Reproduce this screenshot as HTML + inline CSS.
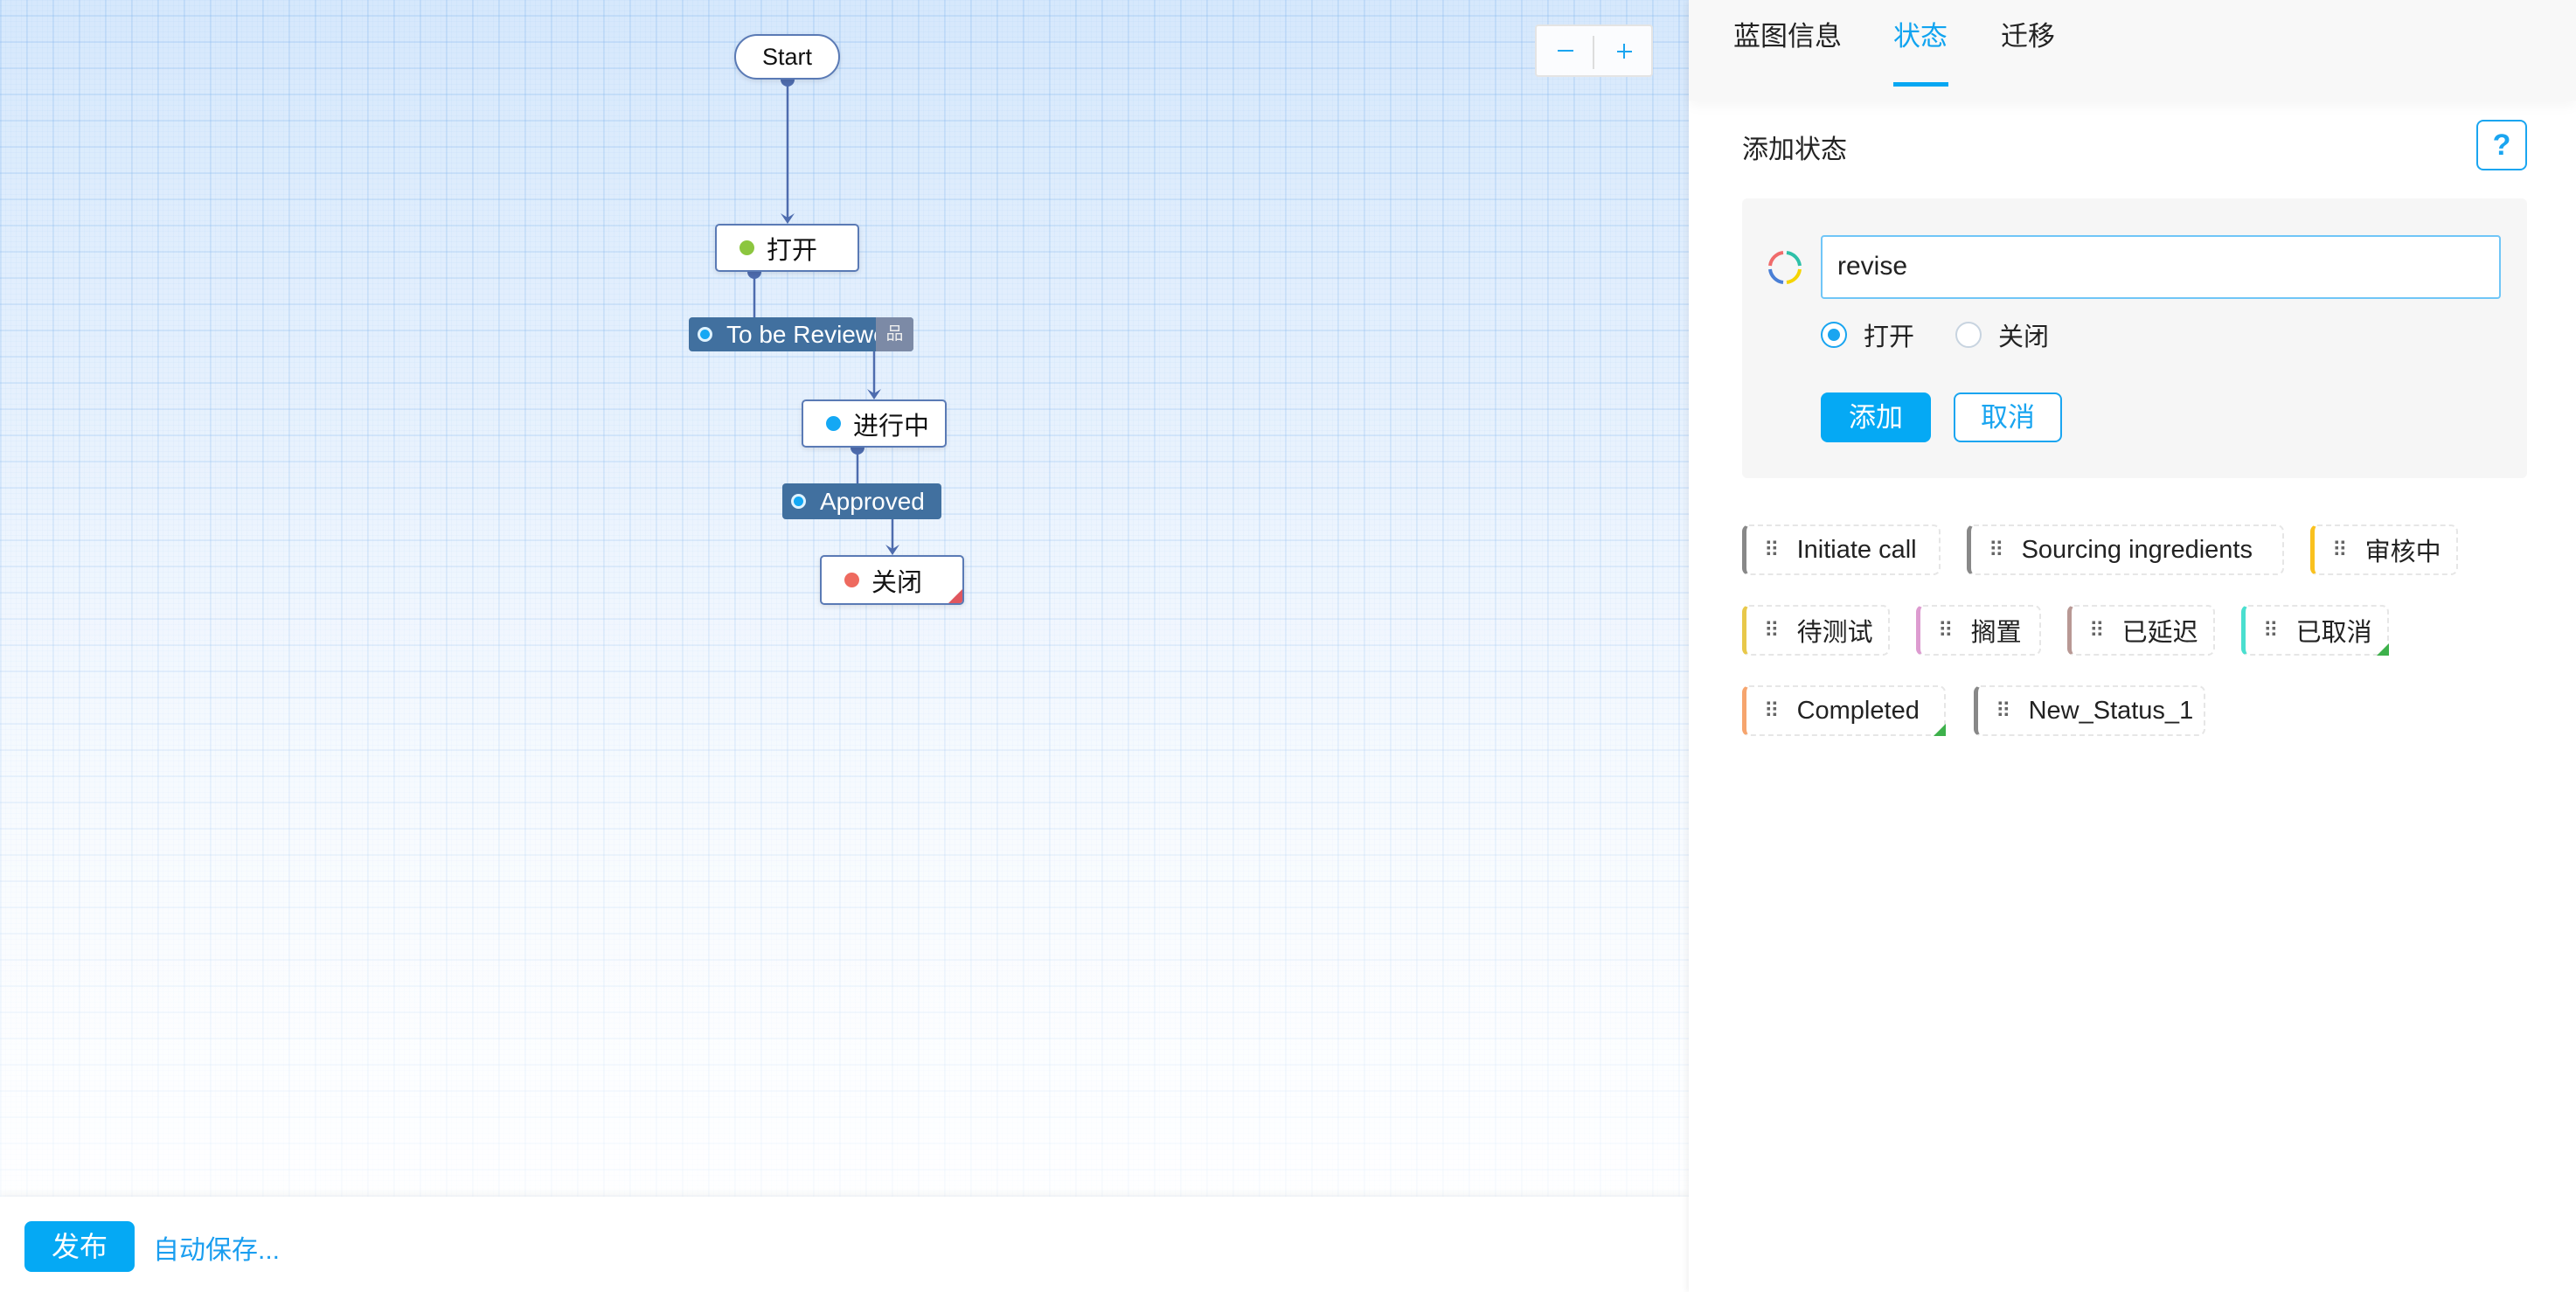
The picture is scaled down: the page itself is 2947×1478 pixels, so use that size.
<!DOCTYPE html>
<html><head><meta charset="utf-8"><style>
*{box-sizing:border-box;margin:0;padding:0}
body{width:2947px;height:1478px;position:relative;overflow:hidden;font-family:"Liberation Sans","Noto Sans CJK SC",sans-serif;background:#fff}
#canvas{position:absolute;left:0;top:0;width:1932px;height:1369px;
background:
linear-gradient(to bottom,rgba(255,255,255,0) 0%,rgba(255,255,255,0.1) 35%,rgba(255,255,255,.8) 100%),
repeating-linear-gradient(90deg,rgba(120,175,235,.2) 0 2px,transparent 2px 30px),
repeating-linear-gradient(0deg,rgba(120,175,235,.2) 0 2px,transparent 2px 30px),
repeating-linear-gradient(90deg,rgba(140,190,240,.08) 0 1px,transparent 1px 6px),
repeating-linear-gradient(0deg,rgba(140,190,240,.08) 0 1px,transparent 1px 6px),
linear-gradient(to bottom,#d6e8fc,#eef5fe 60%,#fbfdff)}
#bottom{position:absolute;left:0;top:1369px;width:1932px;height:109px;background:#fff;box-shadow:0 -4px 8px rgba(0,0,0,.04)}
.abs{position:absolute}
.node{position:absolute;background:#fff;border:2px solid #5a7ab5;border-radius:5px;font-size:29px;color:#111;display:flex;align-items:center;padding-left:26px;box-shadow:0 2px 6px rgba(0,0,0,.1)}
.dot{display:inline-block;width:17px;height:17px;border-radius:50%;margin-right:14px}
.bar{position:absolute;background:#41709f;color:#fff;font-size:28px;border-radius:4px;display:flex;align-items:center}
.bdot{width:17px;height:17px;border-radius:50%;border:3px solid #dff3ff;background:#14a8f4;margin:0 16px 0 10px}
#panel{position:absolute;left:1932px;top:0;width:1015px;height:1478px;background:#fff;box-shadow:-3px 0 6px rgba(0,0,0,.05)}
#hdr{position:absolute;left:0;top:0;width:1015px;height:115px;background:#f8f8f8;box-shadow:0 6px 14px rgba(0,0,0,.04)}
.tab{position:absolute;top:16px;font-size:31px;color:#222}
.tag{position:absolute;height:58px;border:2px dashed #e6e6e6;border-left:5px solid #888;border-radius:8px;font-size:29px;color:#222;display:flex;align-items:center;padding-left:20px}
.tag .h{color:#666;font-size:24px;margin-right:22px;letter-spacing:-2px}
.tag .c{position:absolute;right:-2px;bottom:-2px;width:0;height:0;border-left:14px solid transparent;border-bottom:14px solid #3db14b}
</style></head><body>
<div id="canvas"></div>
<svg class="abs" style="left:0;top:0" width="1932" height="1369">
<g stroke="#4e6cae" stroke-width="2.5" fill="none">
<line x1="901" y1="91" x2="901" y2="250"/>
<line x1="863" y1="311" x2="863" y2="363"/>
<line x1="1000" y1="402" x2="1000" y2="451"/>
<line x1="981" y1="512" x2="981" y2="553"/>
<line x1="1021" y1="594" x2="1021" y2="629"/>
</g>
<g fill="#4e6cae">
<path d="M901 91 m-8 0 a8 8 0 0 0 16 0z"/>
<path d="M863 311 m-8 0 a8 8 0 0 0 16 0z"/>
<path d="M981 512 m-8 0 a8 8 0 0 0 16 0z"/>
<path d="M893 244 L901 256 L909 244 L901 249z"/>
<path d="M992 445 L1000 457 L1008 445 L1000 450z"/>
<path d="M1013 623 L1021 635 L1029 623 L1021 628z"/>
</g>
</svg>
<div class="node" style="left:840px;top:39px;width:121px;height:52px;border-radius:26px;font-size:27px;font-weight:500;justify-content:center;padding-left:0">Start</div>
<div class="node" style="left:818px;top:256px;width:165px;height:55px"><span class="dot" style="background:#8cc63f"></span>打开</div>
<div class="bar" style="left:788px;top:363px;width:257px;height:39px;overflow:hidden"><div class="bdot"></div>To be Reviewed<div style="position:absolute;right:0;top:0;width:43px;height:39px;background:#7c8aa6;color:#eee;font-size:20px;text-align:center;line-height:39px">品</div></div>
<div class="node" style="left:917px;top:457px;width:166px;height:55px"><span class="dot" style="background:#14a8f4"></span>进行中</div>
<div class="bar" style="left:895px;top:553px;width:182px;height:41px"><div class="bdot"></div>Approved</div>
<div class="node" style="left:938px;top:635px;width:165px;height:57px;overflow:hidden"><span class="dot" style="background:#ee6a5f"></span>关闭<div style="position:absolute;right:0;bottom:0;border-left:16px solid transparent;border-bottom:16px solid #e0565e"></div></div>
<div class="abs" style="left:1756px;top:28px;width:135px;height:60px;background:#fbfcfe;border:2px solid #e4e4e4;border-radius:4px">
<div class="abs" style="left:24px;top:27px;width:18px;height:2px;background:#1aa5f0"></div>
<div class="abs" style="left:64px;top:11px;width:2px;height:38px;background:#ddd"></div>
<div class="abs" style="left:92px;top:28px;width:17px;height:2px;background:#1aa5f0"></div>
<div class="abs" style="left:99px;top:20px;width:2px;height:17px;background:#1aa5f0"></div>
</div>
<div id="bottom">
<div class="abs" style="left:28px;top:28px;width:126px;height:58px;background:#05a9f4;border-radius:8px;color:#fff;font-size:32px;text-align:center;line-height:58px">发布</div>
<div class="abs" style="left:175px;top:36px;font-size:30px;color:#1a9ef0">自动保存...</div>
</div>
<div id="panel">
<div id="hdr"></div>
<div class="tab" style="left:51px">蓝图信息</div>
<div class="tab" style="left:234px;color:#11a4f0">状态</div>
<div class="abs" style="left:234px;top:94px;width:63px;height:5px;background:#06a7f2"></div>
<div class="tab" style="left:357px">迁移</div>
<div class="abs" style="left:61px;top:146px;font-size:30px;color:#222">添加状态</div>
<div class="abs" style="left:901px;top:137px;width:58px;height:58px;border:2px solid #1aa5f0;border-radius:8px;color:#1aa5f0;font-size:34px;text-align:center;line-height:54px;font-weight:bold">?</div>
<div class="abs" style="left:61px;top:227px;width:898px;height:320px;background:#f6f6f6;border-radius:6px"></div>
<svg class="abs" style="left:90px;top:286px" width="40" height="40" viewBox="0 0 40 40" fill="none" stroke-width="4">
<path d="M18 3 A17 17 0 0 0 3 18" stroke="#f06b6b"/><path d="M22 3 A17 17 0 0 1 37 18" stroke="#2ec0a8"/>
<path d="M37 22 A17 17 0 0 1 22 37" stroke="#f5d400"/><path d="M18 37 A17 17 0 0 1 3 22" stroke="#4a7fd6"/></svg>
<div class="abs" style="left:151px;top:269px;width:778px;height:73px;background:#fff;border:2px solid #70c6f7;border-radius:4px;font-size:30px;color:#222;padding-left:17px;line-height:68px">revise</div>
<div class="abs" style="left:151px;top:368px;width:30px;height:30px;border-radius:50%;border:2px solid #1aa5f0;background:#fff"><div style="margin:6px;width:14px;height:14px;border-radius:50%;background:#1aa5f0"></div></div>
<div class="abs" style="left:200px;top:362px;font-size:29px;color:#222">打开</div>
<div class="abs" style="left:305px;top:368px;width:30px;height:30px;border-radius:50%;border:2px solid #c8d4e0;background:#fff"></div>
<div class="abs" style="left:354px;top:362px;font-size:29px;color:#222">关闭</div>
<div class="abs" style="left:151px;top:449px;width:126px;height:57px;background:#05a9f4;border-radius:8px;color:#fff;font-size:31px;text-align:center;line-height:57px">添加</div>
<div class="abs" style="left:303px;top:449px;width:124px;height:57px;background:#fff;border:2px solid #1aa5f0;border-radius:8px;color:#1aa5f0;font-size:31px;text-align:center;line-height:53px">取消</div>
<div class="tag" style="left:61px;top:600px;width:227px"><span class="h">⠿</span>Initiate call</div>
<div class="tag" style="left:318px;top:600px;width:363px"><span class="h">⠿</span>Sourcing ingredients</div>
<div class="tag" style="left:711px;top:600px;width:169px;border-left-color:#f9c11f"><span class="h">⠿</span>审核中</div>
<div class="tag" style="left:61px;top:692px;width:169px;border-left-color:#e8c84a"><span class="h">⠿</span>待测试</div>
<div class="tag" style="left:260px;top:692px;width:143px;border-left-color:#dd9bd0"><span class="h">⠿</span>搁置</div>
<div class="tag" style="left:433px;top:692px;width:169px;border-left-color:#b89894"><span class="h">⠿</span>已延迟</div>
<div class="tag" style="left:632px;top:692px;width:169px;border-left-color:#4adfcf"><span class="h">⠿</span>已取消<span class="c"></span></div>
<div class="tag" style="left:61px;top:784px;width:233px;border-left-color:#f6a56e"><span class="h">⠿</span>Completed<span class="c"></span></div>
<div class="tag" style="left:326px;top:784px;width:265px"><span class="h">⠿</span>New_Status_1</div>
</div>
</body></html>
